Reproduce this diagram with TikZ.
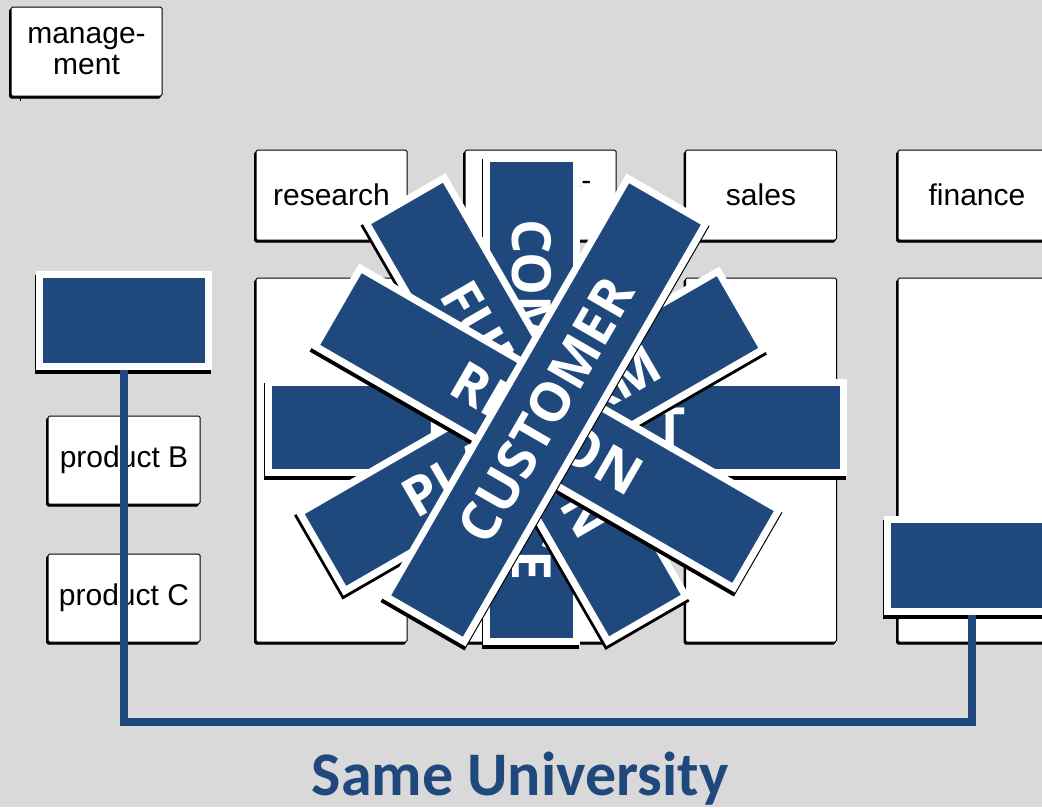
\documentclass[tikz,border=0pt]{standalone}
\usepackage{fontspec}
\setmainfont{Liberation Sans}
\newfontfamily\barfont{Open Sans}
\newfontfamily\unifont{Carlito}
\definecolor{uniblue}{HTML}{1F497D}
\definecolor{slide}{HTML}{D9D9D9}

\begin{document}
\begin{tikzpicture}
[x=1pt,y=-1pt,
box/.style={draw=black,line width=1pt,fill=white,rounded corners=1.5pt,inner sep=0pt,
	align=center,font=\fontsize{30}{31}\selectfont,
	preaction={draw=black,fill=black,line width=1pt,transform canvas={shift={(-1.5pt,-2pt)}}}},
head/.style={box,minimum width=151pt,minimum height=90pt},
col/.style={box,minimum width=151pt,minimum height=364pt},
bar/.style={draw=white,line width=7pt,fill=uniblue,inner sep=0pt,
	minimum width=483pt,minimum height=90pt,
	text=white,font=\barfont\bfseries\fontsize{54}{54}\selectfont,
	preaction={draw=black,fill=black,line width=7pt,transform canvas={shift={(-1pt,-4pt)}}}},
tag/.style={bar,minimum width=169pt,minimum height=92pt},
link/.style={uniblue,line width=8pt}]

\useasboundingbox (0,0) rectangle (1042,807);
\clip (0,0) rectangle (1042,807);
\fill[slide] (0,0) rectangle (1042,807);

\node[head,minimum height=89pt] (mgmt) at (86.5,51.5) {manage-\\ment};
\draw[line width=1pt] ([xshift=10pt]mgmt.south west) -- ++(0,4);

\node[head] (research) at (331.5,195) {research};
\node[head] (production) at (540.5,195) {produc-\\tion};
\node[head] (sales) at (761,195) {sales};
\node[head,minimum width=158pt] (finance) at (977,195) {finance};

\node[col] (researchcol) at (331.5,460) {};
\node[col] (productioncol) at (540.5,460) {};
\node[col] (salescol) at (761,460) {};
\node[col,minimum width=158pt] (financecol) at (977,460) {};

\node[head,minimum width=152pt,minimum height=88pt] (prodB) at (124,460) {product B};
\node[head,minimum width=152pt,minimum height=88pt] (prodC) at (124,598) {product C};

\node[bar,minimum width=575pt] (product) at (556,427.5) {PRODUCT};
\node[bar,rotate=-90] (competence) at (531.5,400) {COMPETENCE};
\node[bar,rotate=30] (platform) at (531.5,431) {PLATFORM};
\node[bar,rotate=-60] (function) at (526,409.5) {FUNCTION};
\node[bar,rotate=-30] (region) at (547,428) {REGION};
\node[bar,rotate=60] (customer) at (546,410) {CUSTOMER};

\node[tag] (tagleft) at (124,320.5) {};
\node[tag] (tagright) at (972,565) {};

\coordinate (bus) at (0,722);
\draw[link] (tagleft.south) -- (tagleft.south |- bus) -| (tagright.south);

\node[text=uniblue,anchor=base,font=\unifont\bfseries\fontsize{62}{62}\selectfont] (title) at (520,795) {Same University};
\end{tikzpicture}
\end{document}
